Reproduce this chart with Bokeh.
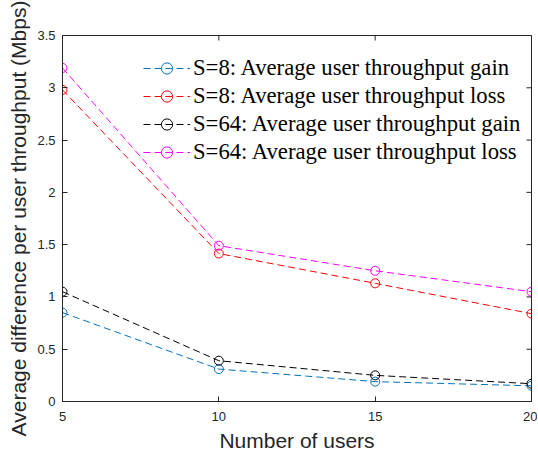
from bokeh.plotting import figure
from bokeh.models import Range1d, FixedTicker, Legend, LegendItem
from bokeh.embed import file_html
from bokeh.resources import INLINE

users = [5, 10, 15, 20]
s8_gain = [0.85, 0.31, 0.19, 0.15]
s8_loss = [2.98, 1.415, 1.13, 0.84]
s64_gain = [1.05, 0.39, 0.25, 0.17]
s64_loss = [3.19, 1.49, 1.25, 1.05]
series_names = ["S=8: Average user throughput gain", "S=8: Average user throughput loss",
                "S=64: Average user throughput gain", "S=64: Average user throughput loss"]
colors = ["#0072BD", "#FF0000", "#000000", "#FF00FF"]
x_ticks = [5, 10, 15, 20]
y_ticks = [0, 0.5, 1, 1.5, 2, 2.5, 3, 3.5]
y_tick_labels = ["0", "0.5", "1", "1.5", "2", "2.5", "3", "3.5"]

AX = "#262626"
FW, FH = 469, 366
X0, X1, Y0, Y1 = 5, 20, 0, 3.5
p = figure(frame_width=FW, frame_height=FH, output_backend="svg", toolbar_location=None,
           x_range=Range1d(X0, X1), y_range=Range1d(Y0, Y1),
           min_border_left=62, min_border_top=35, min_border_right=6, min_border_bottom=53)
p.xgrid.visible = False
p.ygrid.visible = False
p.outline_line_color = AX
p.outline_line_width = 1
p.background_fill_color = "white"
p.border_fill_color = "white"

items = []
for ys, name, c in zip([s8_gain, s8_loss, s64_gain, s64_loss], series_names, colors):
    r1 = p.line(users, ys, line_color=c, line_width=1, line_dash="7 4")
    r2 = p.scatter(users, ys, marker="circle", size=9, fill_color=None, line_color=c, line_width=1)
    items.append(LegendItem(label=name, renderers=[r1, r2]))

# mirrored inward tick marks on the top and right edges of the box (5 px long)
tick_px = 5
dy = tick_px * (Y1 - Y0) / FH
dx = tick_px * (X1 - X0) / FW
p.segment(x0=x_ticks, y0=[Y1] * len(x_ticks), x1=x_ticks, y1=[Y1 - dy] * len(x_ticks),
          line_color=AX, line_width=1)
p.segment(x0=[X1] * len(y_ticks), y0=y_ticks, x1=[X1 - dx] * len(y_ticks), y1=y_ticks,
          line_color=AX, line_width=1)

for ax in (p.xaxis[0], p.yaxis[0]):
    ax.axis_line_color = AX
    ax.axis_line_width = 1
    ax.major_tick_line_color = AX
    ax.major_tick_in = tick_px
    ax.major_tick_out = 0
    ax.minor_tick_line_color = None
    ax.major_label_text_color = AX
    ax.major_label_text_font = "Liberation Sans"
    ax.major_label_text_font_size = "13px"
    ax.axis_label_text_font = "Liberation Sans"
    ax.axis_label_text_font_size = "21px"
    ax.axis_label_text_font_style = "normal"
    ax.axis_label_text_color = AX

p.xaxis.ticker = FixedTicker(ticks=x_ticks)
p.yaxis.ticker = FixedTicker(ticks=y_ticks)
p.yaxis.major_label_overrides = {t: l for t, l in zip(y_ticks, y_tick_labels)}
p.xaxis.axis_label = "Number of users"
p.yaxis.axis_label = "Average difference per user throughput (Mbps)"
p.xaxis.major_label_standoff = 10
p.yaxis.major_label_standoff = 7
p.xaxis.axis_label_standoff = 5
p.yaxis.axis_label_standoff = 4

legend = Legend(items=items, location=(81, 235), padding=0, spacing=0,
                label_height=28, glyph_height=28, glyph_width=47, label_standoff=3,
                label_text_font="Liberation Serif", label_text_font_size="22.7px",
                label_text_color="#000000", border_line_alpha=0, background_fill_alpha=0)
p.add_layout(legend, "center")

open("out.html", "w").write(file_html(p, INLINE))
